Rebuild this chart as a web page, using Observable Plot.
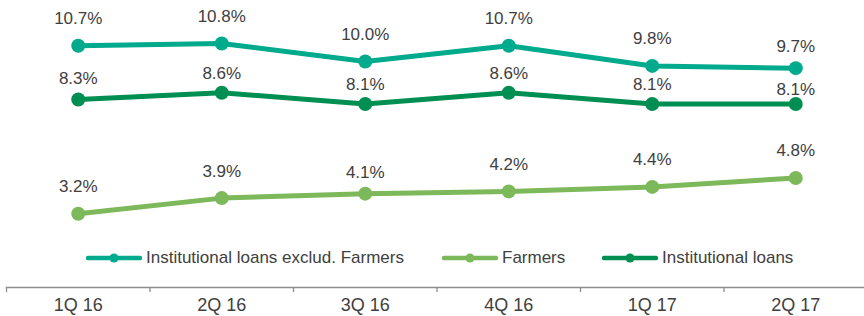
<!DOCTYPE html>
<html><head><meta charset="utf-8">
<script src="https://cdn.jsdelivr.net/npm/d3@7"></script>
<script src="https://cdn.jsdelivr.net/npm/@observablehq/plot@0.6"></script>
<style>
body{margin:0;background:#fff;font-family:"Liberation Sans",Arial,sans-serif;}
#wrap{position:relative;width:864px;height:316px;overflow:hidden;}
.leg{position:absolute;top:247px;height:22px;display:flex;align-items:center;font-size:17px;color:#404040;white-space:nowrap;}
.leg svg{margin-right:4px;}
</style></head><body><div id="wrap"></div>
<script>
// ---- data ----
const quarters = ["1Q 16","2Q 16","3Q 16","4Q 16","1Q 17","2Q 17"];
const seriesNames = ["Institutional loans exclud. Farmers","Farmers","Institutional loans"];
const exclFarmers = [10.7,10.8,10.0,10.7,9.8,9.7];
const farmers = [3.2,3.9,4.1,4.2,4.4,4.8];
const institutional = [8.3,8.6,8.1,8.6,8.1,8.1];
const colors = ["#00AA8C","#7DB85A","#008F52"];

// label nudges (pixels above the point)
function labelDy(series, i){
  if (series === seriesNames[0]) return i === 5 ? -22 : -27;
  if (series === seriesNames[2]) return i === 5 ? -14 : (i === 0 ? -21 : -19);
  return i === 2 ? -21 : -27;
}

const valuesBySeries = [exclFarmers, farmers, institutional];
const rows = [];
[0,2,1].forEach(k => valuesBySeries[k].forEach((v,i) => rows.push({series: seriesNames[k], i, q: quarters[i], value: v})));
rows.forEach(r => r.dy = labelDy(r.series, r.i));

const labelMarks = Array.from(d3.group(rows, r => r.dy), ([dy, g]) =>
  Plot.text(g, {x: "i", y: "value", text: d => d.value.toFixed(1) + "%", dy, fontSize: 17, fill: "#404040"}));

const boundaries = d3.range(quarters.length + 1).map(i => i - 0.5);

const chart = Plot.plot({
  width: 864, height: 316,
  marginTop: 0, marginLeft: 6, marginRight: 0, marginBottom: 29,
  style: {fontFamily: '"Liberation Sans", Arial, sans-serif', background: "#fff", color: "#404040"},
  x: {domain: [-0.5, quarters.length - 0.5], range: [6, 867], axis: null},
  y: {domain: [0, 12.72], range: [285, 0], axis: null},
  color: {domain: seriesNames, range: colors},
  marks: [
    Plot.frame({anchor: "bottom", stroke: "#8c8c8c", strokeWidth: 1.3}),
    Plot.axisX(boundaries, {tickSize: 5, tickFormat: () => "", stroke: "#8c8c8c", strokeWidth: 1.3, label: null}),
    Plot.axisX(d3.range(quarters.length), {tickSize: 0, tickPadding: 11, tickFormat: i => quarters[i], fontSize: 18, fill: "#404040", label: null}),
    Plot.line(rows, {x: "i", y: "value", z: "series", stroke: "series", strokeWidth: 5}),
    Plot.dot(rows, {x: "i", y: "value", fill: "series", r: 7}),
    ...labelMarks
  ]
});
const wrap = document.getElementById("wrap");
wrap.appendChild(chart);

// legend
const legendPos = [86, 442, 602];
seriesNames.forEach((name, k) => {
  const div = document.createElement("div");
  div.className = "leg";
  div.style.left = legendPos[k] + "px";
  div.innerHTML = `<svg width="56" height="12"><line x1="2" y1="6" x2="54" y2="6" stroke="${colors[k]}" stroke-width="4.5" stroke-linecap="round"/><circle cx="28" cy="6" r="4.5" fill="${colors[k]}"/></svg><span>${name}</span>`;
  wrap.appendChild(div);
});
</script></body></html>
